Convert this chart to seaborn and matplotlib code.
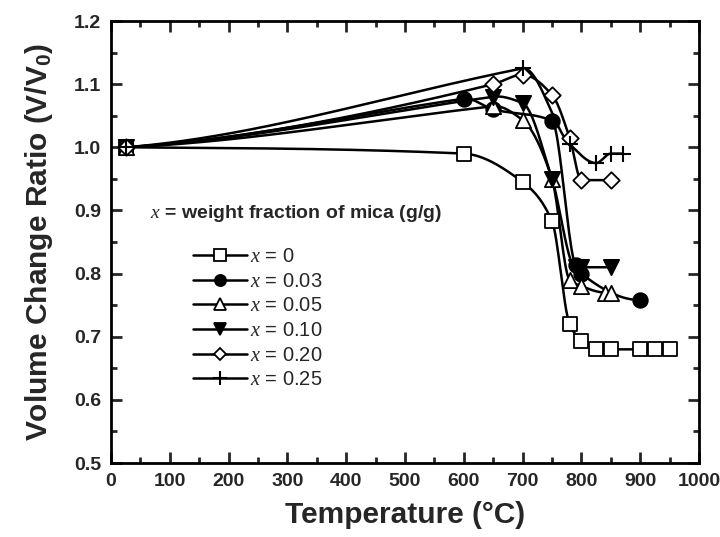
import numpy as np
import pandas as pd
import matplotlib
matplotlib.use("Agg")
import matplotlib.pyplot as plt
from matplotlib.lines import Line2D
import seaborn as sns

sns.set_theme(style="ticks")
plt.rcParams['font.family'] = ['Liberation Sans', 'DejaVu Sans']
plt.rcParams['mathtext.fontset'] = 'custom'
plt.rcParams['mathtext.rm'] = 'Liberation Sans'
plt.rcParams['mathtext.bf'] = 'Liberation Sans:bold'
plt.rcParams['mathtext.it'] = 'Liberation Serif:italic'

# ---- data ----
labels = ["0", "0.03", "0.05", "0.10", "0.20", "0.25"]
t_x000 = [25, 600, 700, 750, 780, 800, 825, 850, 900, 925, 950]
v_x000 = [1.0, 0.99, 0.945, 0.883, 0.72, 0.693, 0.68, 0.68, 0.68, 0.68, 0.68]
t_x003 = [25, 600, 650, 750, 790, 800, 900]
v_x003 = [1.0, 1.077, 1.06, 1.042, 0.813, 0.80, 0.758]
t_x005 = [25, 650, 700, 750, 780, 800, 840, 850]
v_x005 = [1.0, 1.065, 1.043, 0.95, 0.79, 0.78, 0.77, 0.77]
t_x010 = [25, 650, 700, 750, 790, 800, 850]
v_x010 = [1.0, 1.08, 1.07, 0.95, 0.81, 0.81, 0.81]
t_x020 = [25, 650, 700, 750, 780, 800, 850]
v_x020 = [1.0, 1.10, 1.115, 1.083, 1.015, 0.948, 0.948]
t_x025 = [25, 700, 780, 825, 850, 870]
v_x025 = [1.0, 1.125, 1.005, 0.975, 0.99, 0.99]

temps = [t_x000, t_x003, t_x005, t_x010, t_x020, t_x025]
vals = [v_x000, v_x003, v_x005, v_x010, v_x020, v_x025]
markers = ['s', 'o', '^', 'v', 'D', '+']
faces = ['white', 'black', 'white', 'black', 'white', 'black']
msizes = [100, 110, 120, 120, 70, 120]


def smooth(x, y, n=500, a0=0.4):
    """Cubic Hermite curve through the data points."""
    x = np.asarray(x, float); y = np.asarray(y, float)
    h = np.diff(x); delta = np.diff(y) / h
    m = len(x)
    d = np.zeros(m)
    for k in range(1, m - 1):
        if delta[k - 1] * delta[k] <= 0:
            d[k] = delta[0] if k == 1 else 0.0
        else:
            w1 = 2 * h[k] + h[k - 1]; w2 = h[k] + 2 * h[k - 1]
            d[k] = (w1 + w2) / (w1 / delta[k - 1] + w2 / delta[k])
    d[0] = a0 * delta[0]
    s = ((2 * h[-1] + h[-2]) * delta[-1] - h[-1] * delta[-2]) / (h[-1] + h[-2])
    if np.sign(s) != np.sign(delta[-1]):
        s = 0.0
    elif np.sign(delta[-1]) != np.sign(delta[-2]) and abs(s) > abs(3 * delta[-1]):
        s = 3 * delta[-1]
    d[-1] = s
    xs = np.linspace(x[0], x[-1], n)
    idx = np.clip(np.searchsorted(x, xs) - 1, 0, m - 2)
    t = (xs - x[idx]) / h[idx]
    h00 = 2 * t**3 - 3 * t**2 + 1; h10 = t**3 - 2 * t**2 + t
    h01 = -2 * t**3 + 3 * t**2; h11 = t**3 - t**2
    ys = h00 * y[idx] + h10 * h[idx] * d[idx] + h01 * y[idx + 1] + h11 * h[idx] * d[idx + 1]
    return xs, ys


fig = plt.figure(figsize=(7.2, 5.37), dpi=100)
ax = fig.add_axes([111 / 720, (537 - 463) / 537, (699 - 111) / 720, (463 - 21) / 537])

for t, v, mk, fc, ms in zip(temps, vals, markers, faces, msizes):
    xs, ys = smooth(t, v)
    sns.lineplot(x=xs, y=ys, ax=ax, color='black', linewidth=1.8, sort=False, zorder=2)
    if mk == '+':
        sns.scatterplot(x=t, y=v, ax=ax, marker='+', s=ms, color='black',
                        linewidth=1.5, zorder=3)
    else:
        sns.scatterplot(x=t, y=v, ax=ax, marker=mk, s=ms, facecolor=fc,
                        edgecolor='black', linewidth=1.3, zorder=3)

ax.set_xlim(0, 1000)
ax.set_ylim(0.5, 1.2)
ax.set_xticks(np.arange(0, 1001, 100))
ax.set_yticks(np.arange(0.5, 1.21, 0.1))
ax.set_xticks(np.arange(50, 1000, 100), minor=True)
ax.set_yticks(np.arange(0.55, 1.2, 0.1), minor=True)
ax.set_yticklabels([f"{v:.1f}" for v in np.arange(0.5, 1.21, 0.1)])
ax.tick_params(which='both', direction='in', top=True, right=True, width=2)
ax.tick_params(which='major', length=8, labelsize=14, pad=7)
ax.tick_params(which='minor', length=4)
for lab in ax.get_xticklabels() + ax.get_yticklabels():
    lab.set_fontweight('bold')
for sp in ax.spines.values():
    sp.set_linewidth(2)
    sp.set_color('black')

ax.set_xlabel('Temperature (°C)', fontsize=21.5, fontweight='bold', labelpad=8)
ax.set_ylabel(r'Volume Change Ratio (V/V$_\mathbf{0}$)', fontsize=21.5,
              fontweight='bold', labelpad=14)

# legend
ax.text(66, 0.5 + (463 - 213) / 632, r'$x$ = weight fraction of mica (g/g)',
        fontsize=14, fontweight='bold', va='center', ha='left')
handles = []
for mk, fc in zip(markers, faces):
    if mk == '+':
        handles.append(Line2D([], [], color='black', lw=1.8, marker='+',
                              markersize=10, markeredgewidth=1.5))
    else:
        handles.append(Line2D([], [], color='black', lw=1.8, marker=mk,
                              markersize=8 if mk != 'D' else 6.5,
                              markerfacecolor=fc, markeredgecolor='black',
                              markeredgewidth=1.3))
leg = ax.legend(handles, [rf'$x$ = {l}' for l in labels], loc='upper left',
                bbox_to_anchor=((193 - 111) / 588, (463 - 247) / 442),
                frameon=False, fontsize=14.5, handlelength=2.7,
                handletextpad=0.15, labelspacing=0.28, borderaxespad=0,
                borderpad=0)

fig.savefig('out.png', dpi=100)
